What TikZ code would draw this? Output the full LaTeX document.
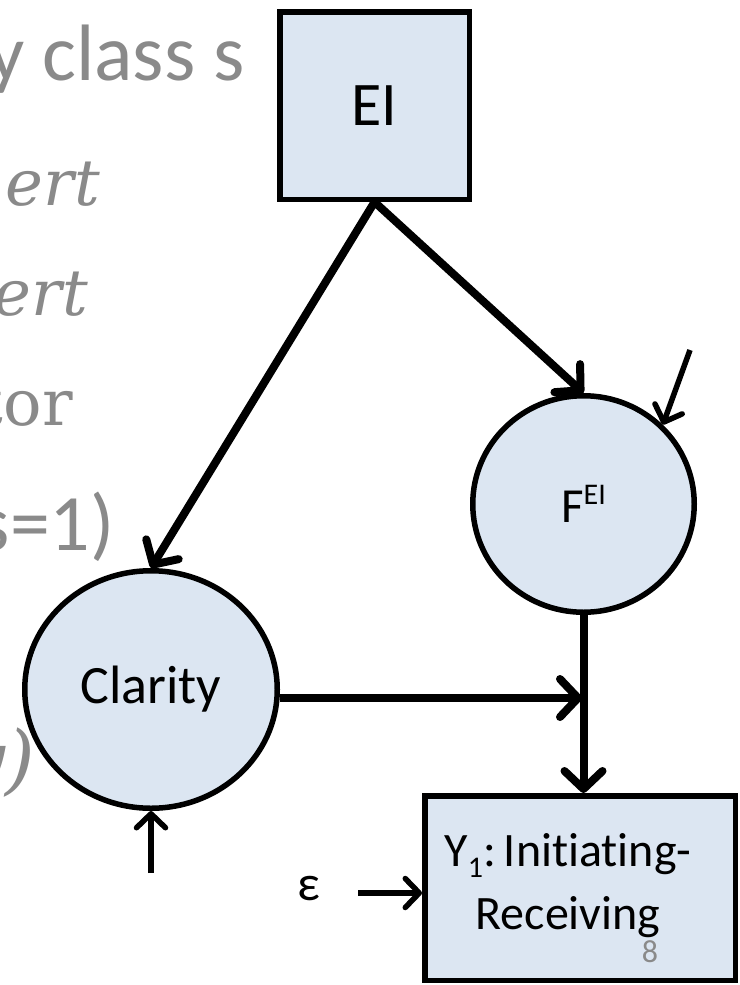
\documentclass[tikz,border=0pt]{standalone}
\usepackage{fontspec}
\newfontfamily\calfont[Ligatures=NoCommon]{Carlito}
\newfontfamily\serfont{DejaVu Serif}
\usetikzlibrary{arrows.meta,shapes.geometric}
\definecolor{nodefill}{HTML}{DCE6F2}
\definecolor{ghost}{HTML}{8A8A8A}
\begin{document}
\begin{tikzpicture}[x=1pt,y=-1pt,
  boxnode/.style={draw=black, line width=5.5pt, fill=nodefill, inner sep=0pt},
  ovalnode/.style={ellipse, draw=black, line width=5.5pt, fill=nodefill, inner sep=0pt},
  bigarrow/.style={line width=8pt, -{Straight Barb[length=18pt,width=38pt,round]}},
  smallarrow/.style={line width=5.5pt, -{Straight Barb[length=14pt,width=29pt,round]}},
  ghosttext/.style={text=ghost, inner sep=0pt, font=\serfont\fontsize{64}{76}\selectfont},
  ghostsans/.style={text=ghost, inner sep=0pt, font=\calfont\fontsize{80}{96}\selectfont}]
\useasboundingbox (0,0) rectangle (739,985);
\clip (0,0) rectangle (739,985);
\fill[white] (0,0) rectangle (739,985);
% background slide fragments
\node[ghostsans, anchor=base east] (g1) at (245,80) {y class s};
\node[ghosttext, anchor=base east] (g2) at (100,205) {\itshape ert};
\node[ghosttext, anchor=base east] (g3) at (88,315) {\itshape ert};
\node[ghosttext, anchor=base east] (g4) at (73,425) {tor};
\node[ghostsans, anchor=base east] (g5) at (115,550) {s=1)};
\node[ghosttext, anchor=base east, font=\serfont\fontsize{76}{90}\selectfont] (g6) at (35,785) {\itshape y)};
% nodes
\node[boxnode, minimum width=189.5pt, minimum height=187.5pt, font=\calfont\fontsize{62}{72}\selectfont] (EI) at (374.5,105.5) {EI};
\node[ovalnode, minimum width=252.5pt, minimum height=237.5pt, font=\calfont\fontsize{54}{64}\selectfont] (Cl) at (151,689.5) {Clarity};
\node[ovalnode, minimum width=221.5pt, minimum height=216.5pt, font=\calfont\fontsize{49}{58}\selectfont] (F) at (583.5,504) {F\raisebox{0.38em}{\fontsize{30}{34}\selectfont EI}};
\node[boxnode, minimum width=310.5pt, minimum height=184.5pt] (Y) at (580,888) {};
\node[inner sep=0pt, align=center, font=\calfont\fontsize{48}{63}\selectfont] (Ylab) at (568,886) {Y\raisebox{-0.22em}{\fontsize{30}{32}\selectfont 1}:\,Initiating-\\Receiving};
\node[text=ghost, inner sep=0pt, font=\calfont\fontsize{32}{36}\selectfont] (pg) at (650,952) {8};
\node[inner sep=0pt, font=\calfont\fontsize{50}{56}\selectfont] (eps) at (309,889) {ε};
% connectors
\draw[bigarrow] (EI.south) -- (Cl.north);
\draw[bigarrow] (EI.south) -- (F.north);
\coordinate (J) at (582,698);
\draw[bigarrow] (Cl.east |- J) -- (J);
\draw[bigarrow] (F.south) -- (F.south |- Y.north);
\coordinate (epsS) at (358,893);
\draw[smallarrow] (epsS) -- (Y.west |- epsS);
\coordinate (clS) at (151,873);
\draw[smallarrow] (clS) -- (Cl.south);
\coordinate (fS) at (690,350);
\draw[smallarrow] (fS) -- (F.45);
\end{tikzpicture}
\end{document}
